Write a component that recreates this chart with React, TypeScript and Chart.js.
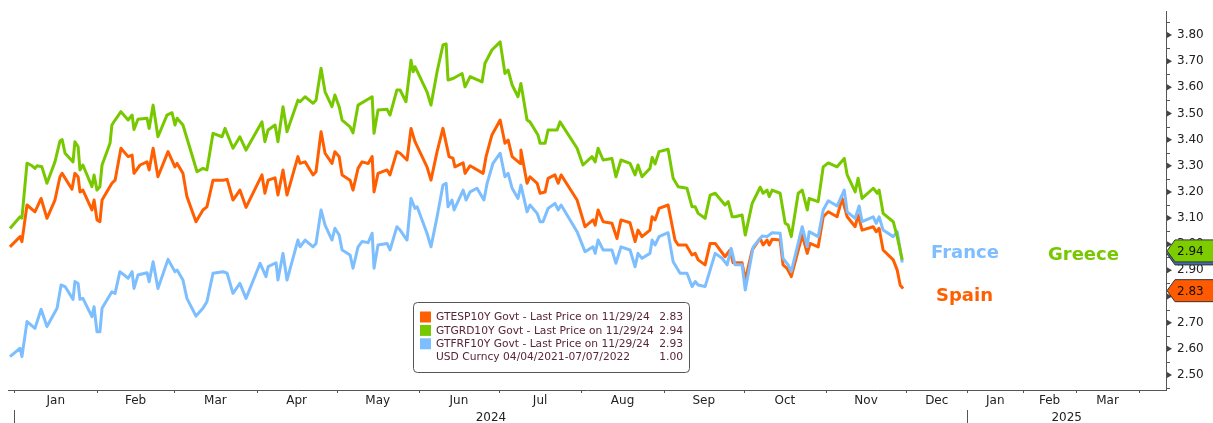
import React, { useEffect, useRef } from "react";
import { Chart, registerables } from "chart.js";

Chart.register(...registerables);

const FONT = '"DejaVu Sans", Tahoma, Verdana, sans-serif';

// x values are days since 2024-01-01
const greeceDays = [
  -1.7, 2.1, 2.8, 4.7, 6.6, 7.7, 8.5, 10.3, 12.2, 15.2, 17.1, 17.9, 19.0, 22.0, 22.7, 23.9, 24.6, 25.7, 29.1, 29.9,
  31.0, 32.1, 32.9, 35.9, 36.6, 37.8, 40.0, 42.7, 44.2, 44.9, 46.4, 49.8, 50.6, 52.1, 53.9, 57.3, 59.2, 60.3, 61.1,
  63.3, 68.6, 70.8, 72.3, 74.6, 78.0, 79.1, 82.1, 84.7, 87.0, 93.0, 94.1, 95.3, 97.9, 99.0, 100.9, 102.4, 106.5,
  107.3, 109.2, 112.2, 113.3, 115.2, 116.7, 119.3, 120.4, 122.0, 123.1, 126.1, 127.2, 129.1, 134.4, 135.1, 136.6,
  140.0, 141.1, 143.7, 144.9, 147.1, 149.0, 149.8, 150.5, 155.0, 156.5, 158.8, 161.0, 162.2, 162.9, 164.8, 168.2,
  169.3, 171.2, 175.7, 176.8, 179.4, 182.5, 184.3, 185.5, 187.0, 189.2, 190.3, 192.6, 193.7, 196.7, 197.5, 199.4,
  200.5, 203.9, 205.0, 211.4, 213.6, 217.0, 218.2, 219.3,
  221.2, 224.5, 226.0, 227.9, 231.3, 233.2, 234.3, 235.8, 238.8, 239.6, 240.7, 242.2, 245.6, 247.5, 249.4, 252.7,
  254.6, 255.8, 256.9, 259.5, 261.4, 263.3, 267.0, 268.2, 269.7, 270.8, 273.4, 274.6, 277.2, 280.2, 281.3, 282.8,
  283.6, 284.7, 287.7, 289.6, 290.7, 291.9, 294.5, 296.0, 297.9, 298.6, 302.0, 303.9, 305.8, 309.1, 311.8, 312.9,
  315.9, 317.0, 318.5, 322.7, 324.2, 324.9, 326.4, 330.2, 331.7, 333.6,
];
const greeceYields = [
  3.06, 3.105, 3.1, 3.31, 3.3, 3.29, 3.3, 3.296, 3.233, 3.315, 3.395, 3.4, 3.348, 3.315, 3.392, 3.373, 3.284, 3.303,
  3.22, 3.265, 3.207, 3.22, 3.303, 3.386, 3.456, 3.475, 3.507, 3.475, 3.494, 3.439, 3.478, 3.482, 3.443, 3.532, 3.411,
  3.494, 3.503, 3.456, 3.482, 3.456, 3.277, 3.29, 3.284, 3.424, 3.411, 3.443, 3.367, 3.411, 3.36, 3.468, 3.392, 3.437,
  3.456, 3.392, 3.526, 3.43, 3.551,
  3.545, 3.564, 3.539, 3.551, 3.673, 3.583, 3.526, 3.571, 3.526, 3.475, 3.449, 3.426, 3.532, 3.564, 3.424, 3.513,
  3.516, 3.494, 3.59, 3.59, 3.545, 3.704, 3.66, 3.679, 3.583, 3.532, 3.66, 3.762, 3.766, 3.628, 3.634, 3.653, 3.602,
  3.641, 3.621, 3.692, 3.743, 3.774, 3.653, 3.666, 3.609, 3.564, 3.615, 3.475, 3.468, 3.418, 3.386, 3.386, 3.437,
  3.437, 3.468, 3.367, 3.303, 3.335, 3.315, 3.367,
  3.322, 3.328, 3.258, 3.322, 3.309, 3.265, 3.303, 3.258, 3.29, 3.332, 3.307, 3.354, 3.363, 3.252, 3.22, 3.214, 3.143,
  3.143, 3.118, 3.099, 3.188, 3.195, 3.15, 3.163, 3.105, 3.105, 3.112, 3.035, 3.156, 3.218, 3.195, 3.207, 3.182, 3.207,
  3.195, 3.08, 3.073, 3.029, 3.195, 3.207, 3.131, 3.175, 3.163, 3.296, 3.311, 3.296, 3.328, 3.265, 3.2, 3.252, 3.175,
  3.214, 3.195, 3.207, 3.118, 3.086, 3.029, 2.94,
];

const spainDays = [
  -1.7, 2.1, 2.8, 4.7, 7.7, 10.0, 12.2, 15.2, 17.1, 17.9, 21.6, 22.7, 23.9, 24.6, 25.7, 29.1, 29.9, 31.0, 32.1, 32.9,
  36.6, 37.8, 40.0, 42.7, 44.2, 44.9, 47.2, 49.8, 50.6, 52.1, 53.9, 57.7, 60.3, 61.1, 63.3, 64.8, 68.2, 70.8, 72.3,
  74.6, 78.4, 79.9, 82.1, 84.7, 87.0, 93.0, 94.1, 95.3, 97.9, 99.0, 100.9, 102.4, 106.5,
  107.3, 109.2, 112.2, 113.3, 115.2, 116.7, 119.3, 120.4, 122.0, 123.1, 126.1, 127.2, 129.1, 130.6, 132.9, 134.4,
  135.1, 136.6, 140.0, 141.1, 143.7, 144.9, 147.5, 149.0, 150.5, 155.0, 156.5, 158.8, 161.0, 163.3, 164.8, 165.5,
  168.6, 169.3, 171.2, 176.1, 177.2, 179.4, 182.5, 184.3, 185.5, 187.0, 190.0, 190.3, 192.6, 193.7, 196.4, 197.5,
  199.4, 200.5, 203.1, 204.3, 205.4, 211.4, 214.4, 217.4, 218.2, 219.3,
  221.2, 224.5, 226.4, 227.9, 231.3, 233.2, 234.3, 235.8, 238.8, 239.6, 240.7, 242.2, 245.6, 248.2, 249.4, 252.4,
  254.6, 255.8, 256.9, 259.5, 261.4, 263.3, 267.0, 268.9, 270.0, 273.4, 274.6, 277.2, 280.2, 281.3, 282.8, 283.6,
  284.7, 287.7, 288.8, 290.3, 291.9, 296.0, 297.9, 299.0, 302.0, 303.9, 305.8, 309.1, 311.0, 312.9, 315.9, 317.0,
  318.5, 322.7, 323.8, 324.9, 326.4, 330.2, 331.7, 332.8, 333.9,
];
const spainYields = [
  2.99, 3.029, 3.01, 3.15, 3.124, 3.175, 3.099, 3.169, 3.258, 3.271, 3.21, 3.271, 3.258, 3.2, 3.207, 3.131, 3.169,
  3.093, 3.086, 3.169, 3.233, 3.245, 3.367, 3.335, 3.341, 3.271, 3.303, 3.315, 3.284, 3.367, 3.258, 3.354, 3.296,
  3.309, 3.271, 3.182, 3.086, 3.131, 3.143, 3.245, 3.245, 3.248, 3.169, 3.207, 3.141, 3.265, 3.195, 3.245, 3.254,
  3.188, 3.284, 3.188, 3.335,
  3.309, 3.315, 3.265, 3.277, 3.43, 3.348, 3.309, 3.354, 3.335, 3.265, 3.245, 3.207, 3.29, 3.315, 3.309, 3.335, 3.2,
  3.271, 3.284, 3.265, 3.354, 3.348, 3.322, 3.443, 3.392, 3.296, 3.245, 3.354, 3.443, 3.335, 3.328, 3.296, 3.311,
  3.271, 3.3, 3.271, 3.335, 3.418, 3.475, 3.386, 3.398, 3.335, 3.309, 3.36, 3.233, 3.258, 3.233, 3.195, 3.2, 3.252,
  3.265, 3.233, 3.265, 3.169, 3.067, 3.093, 3.073, 3.131,
  3.086, 3.08, 3.022, 3.093, 3.082, 3.01, 3.054, 3.029, 3.054, 3.105, 3.093, 3.137, 3.15, 3.016, 2.997, 2.997, 2.959,
  2.965, 2.94, 2.921, 3.003, 3.003, 2.952, 2.978, 2.929, 2.929, 2.863, 2.978, 3.022, 2.997, 3.016, 2.997, 3.019,
  3.016, 2.921, 2.908, 2.876, 3.035, 2.965, 3.003, 2.99, 3.105, 3.124, 3.105, 3.175, 3.105, 3.067, 3.112, 3.054,
  3.067, 3.048, 3.061, 2.978, 2.94, 2.901, 2.844, 2.83,
];

const franceDays = [
  -1.7, 2.1, 2.8, 4.7, 7.7, 10.0, 12.2, 16.0, 17.5, 19.0, 22.0, 22.7, 23.9, 24.6, 25.7, 29.1, 29.9, 31.0, 32.1, 32.9,
  36.6, 37.8, 39.6, 42.7, 44.2, 44.9, 46.4, 49.8, 50.6, 52.1, 53.9, 57.7, 60.3, 61.1, 63.3, 64.8, 68.2, 70.8, 72.3,
  74.6, 78.4, 79.9, 82.1, 84.7, 87.0, 92.3, 94.5, 95.3, 98.3, 99.0, 100.9, 102.4, 106.5,
  107.3, 109.2, 112.2, 113.3, 115.2, 116.7, 119.3, 120.4, 122.0, 123.1, 126.1, 127.2, 129.1, 130.6, 132.9, 134.4,
  135.1, 136.6, 140.0, 141.1, 143.7, 144.9, 147.5, 149.0, 150.5, 151.3, 155.0, 156.5, 158.8, 161.0, 162.2, 162.9,
  164.4, 165.2, 168.6, 169.7, 171.2, 173.8, 176.4, 177.6, 179.8, 182.5, 184.3, 185.5, 187.0, 189.2, 190.3, 192.6,
  193.7, 196.4, 197.5, 198.6, 200.5, 203.1, 204.3, 205.4, 211.4, 214.4, 217.4, 218.2, 219.3,
  221.2, 224.5, 226.0, 227.9, 231.3, 233.2, 234.3, 235.8, 238.8, 239.6, 240.7, 242.2, 245.6, 247.5, 250.1, 252.7,
  254.6, 255.8, 256.9, 259.5, 263.3, 265.9, 267.8, 269.3, 270.8, 273.4, 274.6, 277.6, 280.9, 282.8, 284.7, 287.7,
  288.8, 290.7, 291.9, 296.0, 297.9, 298.6, 302.0, 303.9, 305.8, 309.1, 311.8, 312.9, 315.9, 317.4, 318.5, 322.7,
  323.8, 324.9, 326.4, 330.2, 331.7, 333.6,
];
const franceYields = [
  2.57, 2.602, 2.57, 2.704, 2.678, 2.751, 2.685, 2.755, 2.844, 2.838, 2.789, 2.857, 2.85, 2.789, 2.793, 2.723, 2.761,
  2.665, 2.665, 2.755, 2.818, 2.812, 2.895, 2.87, 2.895, 2.831, 2.882, 2.891, 2.857, 2.933, 2.831, 2.942, 2.895,
  2.901, 2.863, 2.793, 2.725, 2.755, 2.78, 2.889, 2.895, 2.889, 2.812, 2.85, 2.793, 2.927, 2.876, 2.914, 2.929,
  2.863, 2.965, 2.863, 3.016,
  2.99, 3.016, 2.99, 3.003, 3.131, 3.073, 3.016, 3.061, 3.035, 2.978, 2.959, 2.908, 2.99, 3.01, 3.006, 3.042, 2.908,
  2.997, 3.003, 2.978, 3.067, 3.054, 3.016, 3.175, 3.137, 3.143, 3.042, 2.99, 3.105, 3.226, 3.233, 3.143, 3.169,
  3.131, 3.207, 3.169, 3.2, 3.214, 3.169, 3.233, 3.309, 3.348, 3.258, 3.271, 3.214, 3.175, 3.226, 3.124, 3.15, 3.118,
  3.086, 3.086, 3.137, 3.156, 3.131, 3.15, 3.048, 2.971, 2.99, 2.965, 3.016,
  2.978, 2.978, 2.927, 2.99, 2.978, 2.914, 2.965, 2.946, 2.965, 3.016, 2.997, 3.029, 3.044, 2.933, 2.889, 2.889,
  2.838, 2.857, 2.844, 2.838, 2.965, 2.946, 2.921, 2.984, 2.921, 2.921, 2.825, 2.99, 3.031, 3.029, 3.044, 3.042,
  2.946, 2.921, 2.895, 3.067, 2.99, 3.048, 3.029, 3.131, 3.166, 3.146, 3.207, 3.124, 3.099, 3.146, 3.086, 3.105,
  3.08, 3.105, 3.054, 3.029, 3.048, 2.93,
];

const yTickValues = [2.5, 2.6, 2.7, 2.8, 2.9, 3.0, 3.1, 3.2, 3.3, 3.4, 3.5, 3.6, 3.7, 3.8];
const monthLabels = ["Jan", "Feb", "Mar", "Apr", "May", "Jun", "Jul", "Aug", "Sep", "Oct", "Nov", "Dec", "Jan", "Feb", "Mar"];
const monthStarts = [0, 31, 60, 91, 121, 152, 182, 213, 244, 274, 305, 335, 358.1, 379, 398.9, 422.6];
const yearLabels = ["2024", "2025"];
const yearStarts = [0, 358.1];
const xMin = -2.44;
const xMax = 432.7;
const yMin = 2.4424;
const yMax = 3.892;

const legendLabels = [
  "GTESP10Y Govt - Last Price on 11/29/24",
  "GTGRD10Y Govt - Last Price on 11/29/24",
  "GTFRF10Y Govt - Last Price on 11/29/24",
  "USD Curncy 04/04/2021-07/07/2022",
];
const legendValues = ["2.83", "2.94", "2.93", "1.00"];
const lastSpain = 2.83;
const lastGreece = 2.94;
const lastFrance = 2.93;

const ORANGE = "#FF5F00";
const GREEN = "#78C800";
const BLUE = "#7DBEFF";

const overlay = {
  id: "bbgOverlay",
  afterDraw(chart: any) {
    const ctx = chart.ctx as CanvasRenderingContext2D;
    const xs = chart.scales.x;
    const ys = chart.scales.y;
    const area = chart.chartArea;
    ctx.save();

    // x axis ticks & labels
    ctx.strokeStyle = "#555";
    ctx.lineWidth = 1;
    monthStarts.forEach((d) => {
      const px = Math.round(xs.getPixelForValue(d)) + 0.5;
      ctx.beginPath();
      ctx.moveTo(px, area.bottom);
      ctx.lineTo(px, area.bottom + 3);
      ctx.stroke();
    });
    ctx.fillStyle = "#222";
    ctx.font = `12px ${FONT}`;
    ctx.textAlign = "center";
    ctx.textBaseline = "middle";
    monthLabels.forEach((m, i) => {
      const c = (xs.getPixelForValue(monthStarts[i]) + xs.getPixelForValue(monthStarts[i + 1])) / 2;
      ctx.fillText(m, c, area.bottom + 11);
    });
    const yearEnds = [yearStarts[1], xMax];
    yearLabels.forEach((y, i) => {
      const c = (xs.getPixelForValue(yearStarts[i]) + xs.getPixelForValue(yearEnds[i])) / 2;
      ctx.fillText(y, c, area.bottom + 28);
      const px = Math.round(xs.getPixelForValue(yearStarts[i])) + 0.5;
      ctx.beginPath();
      ctx.moveTo(px, area.bottom + 20);
      ctx.lineTo(px, area.bottom + 36);
      ctx.stroke();
    });

    // y axis markers
    ctx.fillStyle = "#444";
    yTickValues.forEach((v) => {
      const py = ys.getPixelForValue(v);
      ctx.beginPath();
      ctx.moveTo(area.right + 1, py - 3);
      ctx.lineTo(area.right + 6, py);
      ctx.lineTo(area.right + 1, py + 3);
      ctx.closePath();
      ctx.fill();
      const pm = Math.round(ys.getPixelForValue(v - 0.05)) + 0.5;
      ctx.beginPath();
      ctx.moveTo(area.right, pm);
      ctx.lineTo(area.right + 4, pm);
      ctx.stroke();
    });
    const pTop = Math.round(ys.getPixelForValue(3.85)) + 0.5;
    ctx.beginPath();
    ctx.moveTo(area.right, pTop);
    ctx.lineTo(area.right + 4, pTop);
    ctx.stroke();

    // last-value boxes
    const box = (cy: number, fill: string, text: string | null) => {
      const x0 = area.right + 1;
      const h = 11;
      ctx.beginPath();
      ctx.moveTo(x0, cy);
      ctx.lineTo(x0 + 8, cy - h);
      ctx.lineTo(chart.width + 2, cy - h);
      ctx.lineTo(chart.width + 2, cy + h);
      ctx.lineTo(x0 + 8, cy + h);
      ctx.closePath();
      ctx.fillStyle = fill;
      ctx.fill();
      ctx.strokeStyle = "#333";
      ctx.stroke();
      if (text) {
        ctx.fillStyle = "#111";
        ctx.font = `12px ${FONT}`;
        ctx.textAlign = "left";
        ctx.textBaseline = "middle";
        ctx.fillText(text, x0 + 10, cy + 1);
      }
    };
    const gY = ys.getPixelForValue(lastGreece) - 9;
    box(gY + 3, "#3d6fa8", null);
    box(gY, "#7CCC00", lastGreece.toFixed(2));
    box(ys.getPixelForValue(lastSpain) + 2, "#FF5A00", lastSpain.toFixed(2));
    void lastFrance;

    // series name annotations
    ctx.font = `bold 18px ${FONT}`;
    ctx.textAlign = "left";
    ctx.textBaseline = "middle";
    ctx.fillStyle = BLUE;
    ctx.fillText("France", 931, 253);
    ctx.fillStyle = GREEN;
    ctx.fillText("Greece", 1048, 255);
    ctx.fillStyle = ORANGE;
    ctx.fillText("Spain", 936, 296);

    // legend box
    ctx.beginPath();
    (ctx as any).roundRect(413.5, 302.5, 276, 70, 4);
    ctx.fillStyle = "#fff";
    ctx.fill();
    ctx.strokeStyle = "#555";
    ctx.lineWidth = 1;
    ctx.stroke();
    const colors = [ORANGE, GREEN, BLUE, "#fff"];
    const rowY = [317, 330.4, 343.8, 357.2];
    ctx.font = `10.7px ${FONT}`;
    ctx.textBaseline = "middle";
    legendLabels.forEach((lab, i) => {
      ctx.fillStyle = colors[i];
      ctx.fillRect(420, rowY[i] - 5.5, 11, 11);
      ctx.fillStyle = "#5a2535";
      ctx.textAlign = "left";
      ctx.fillText(lab, 436, rowY[i] + 0.5);
      ctx.textAlign = "right";
      ctx.fillText(legendValues[i], 683, rowY[i] + 0.5);
    });

    ctx.restore();
  },
};

export default function App() {
  const canvasRef = useRef<HTMLCanvasElement | null>(null);

  useEffect(() => {
    if (!canvasRef.current) return;
    const mk = (days: number[], vals: number[]) => days.map((d, i) => ({ x: d, y: vals[i] }));
    const chart = new Chart(canvasRef.current, {
      type: "line",
      data: {
        datasets: [
          { label: "Greece", data: mk(greeceDays, greeceYields), borderColor: GREEN, order: 1 },
          { label: "France", data: mk(franceDays, franceYields), borderColor: BLUE, order: 2 },
          { label: "Spain", data: mk(spainDays, spainYields), borderColor: ORANGE, order: 3 },
        ].map((d) => ({ ...d, borderWidth: 3, pointRadius: 0, tension: 0, fill: false, borderJoinStyle: "round" as const })),
      },
      options: {
        animation: false,
        responsive: true,
        maintainAspectRatio: false,
        layout: { padding: { left: 8, top: 11, right: 0, bottom: 0 } },
        plugins: { legend: { display: false }, tooltip: { enabled: false } },
        scales: {
          x: {
            type: "linear",
            min: xMin,
            max: xMax,
            grid: { display: false, drawTicks: false },
            border: { display: true, color: "#555", width: 1 },
            ticks: { display: false },
            afterFit: (s: any) => {
              s.height = 33;
              s.paddingLeft = 0;
              s.paddingRight = 0;
            },
          },
          y: {
            position: "right",
            min: yMin,
            max: yMax,
            grid: { display: false, drawTicks: false },
            border: { display: true, color: "#555", width: 1 },
            afterBuildTicks: (s: any) => {
              s.ticks = yTickValues.map((v) => ({ value: v }));
            },
            ticks: {
              padding: 11,
              color: "#222",
              font: { family: FONT, size: 12 },
              callback: (v: any) => Number(v).toFixed(2),
            },
            afterFit: (s: any) => {
              s.width = 47;
              s.paddingTop = 0;
              s.paddingBottom = 0;
            },
          },
        },
      },
      plugins: [overlay],
    });
    return () => chart.destroy();
  }, []);

  return (
    <div style={{ position: "absolute", left: 0, top: 0, width: 1213, height: 423, background: "#fff" }}>
      <canvas ref={canvasRef} />
    </div>
  );
}
